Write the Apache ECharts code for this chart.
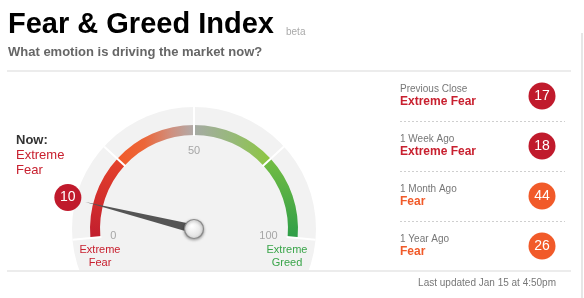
<!DOCTYPE html>
<html><head><meta charset="utf-8">
<script src="https://cdn.jsdelivr.net/npm/echarts@6/dist/echarts.min.js"></script>
<style>html,body{margin:0;padding:0;background:#fff}#c{width:584px;height:298px}</style>
</head><body><div id="c"></div>
<script>
// ---- data ----
const nowValue = 10;
const nowRating = 'Extreme Fear';
const gaugeTickLabels = [0, 50, 100];
const periods = ['Previous Close', '1 Week Ago', '1 Month Ago', '1 Year Ago'];
const ratings = ['Extreme Fear', 'Extreme Fear', 'Fear', 'Fear'];
const scores = [17, 18, 44, 26];

// ---- styles ----
const F = '"Liberation Sans", Arial, Helvetica, sans-serif';
const C = [194, 229];
const badgeColors = { 'Extreme Fear': '#c01a2c', 'Fear': '#f15a29' };
const textColors = { 'Extreme Fear': '#c8202f', 'Fear': '#f15a29' };
const LG = (x0, y0, x1, y1, stops) => new echarts.graphic.LinearGradient(x0, y0, x1, y1,
  stops.map(s => ({ offset: s[0], color: s[1] })));

const chart = echarts.init(document.getElementById('c'), null, { renderer: 'canvas' });

const option = {
  animation: false,
  textStyle: { fontFamily: F },
  polar: { center: C, radius: 130 },
  angleAxis: { type: 'value', min: 0, max: 100 * 360 / 190, startAngle: 185, clockwise: true, show: false },
  radiusAxis: { type: 'value', min: 0, max: 1, show: false },
  grid: [
    { left: 400, width: 165, top: 71, height: 200 },
    { left: 528, width: 28, top: 71, height: 200 }
  ],
  xAxis: [
    { gridIndex: 0, type: 'value', min: 0, max: 1, show: false },
    { gridIndex: 1, type: 'category', data: ['score'], show: false }
  ],
  yAxis: [
    {
      gridIndex: 0, type: 'category', data: periods, inverse: true,
      axisLine: { show: false }, axisTick: { show: false },
      splitLine: { show: true, lineStyle: { color: '#cfcfcf', type: [2, 2], width: 1 } },
      axisLabel: {
        inside: true, margin: 0, interval: 0,
        formatter: (v, i) => `{p|${v}}\n{${ratings[i] === 'Fear' ? 'o' : 'd'}|${ratings[i]}}`,
        rich: {
          p: { fontSize: 10, color: '#777', lineHeight: 12, fontFamily: F },
          d: { fontSize: 12, fontWeight: 'bold', color: textColors['Extreme Fear'], lineHeight: 14, fontFamily: F },
          o: { fontSize: 12, fontWeight: 'bold', color: textColors['Fear'], lineHeight: 14, fontFamily: F }
        }
      }
    },
    { gridIndex: 1, type: 'category', data: periods, inverse: true, show: false }
  ],
  series: [
    {
      type: 'pie', center: C, radius: [0, 122], silent: true, z: 0,
      label: { show: false }, labelLine: { show: false },
      data: [{ value: 1, itemStyle: { color: '#f2f2f2' } }]
    },
    {
      type: 'gauge', center: C, radius: 104, startAngle: 185, endAngle: -5,
      min: 0, max: 100, splitNumber: 4, z: 3,
      axisLine: {
        lineStyle: {
          width: 10,
          color: [
            [0.25, LG(0, 1, 0.4, 0, [[0, '#c11d2e'], [1, '#e4412b']])],
            [0.5, LG(0, 0, 1, 0, [[0, '#f15a29'], [0.35, '#ec6638'], [0.7, '#d08f7e'], [1, '#b0aba9']])],
            [0.75, LG(0, 0, 1, 0, [[0, '#a6aaa4'], [0.5, '#97b97a'], [1, '#8cc63f']])],
            [1, LG(0, 0, 0, 1, [[0, '#74bd43'], [1, '#2e9e48']])]
          ]
        }
      },
      splitLine: { show: true, distance: -28, length: 29, lineStyle: { color: '#fff', width: 2 } },
      axisTick: { show: false },
      axisLabel: {
        distance: 19, color: '#a6a6a6', fontSize: 11, fontFamily: F,
        formatter: v => (gaugeTickLabels.includes(v) ? String(v) : '')
      },
      pointer: {
        icon: 'path://M5,0 L10,100 L0,100 Z', length: 112, width: 9,
        itemStyle: { color: '#555' }
      },
      anchor: {
        show: true, showAbove: true, size: 19, icon: 'circle',
        itemStyle: {
          color: new echarts.graphic.RadialGradient(0.4, 0.35, 0.7, [
            { offset: 0, color: '#ffffff' }, { offset: 1, color: '#dcdcdc' }]),
          borderColor: '#8a8a8a', borderWidth: 1.2,
          shadowBlur: 3, shadowColor: 'rgba(0,0,0,0.35)', shadowOffsetY: 1
        }
      },
      title: { show: false }, detail: { show: false },
      data: [{ value: nowValue }]
    },
    {
      type: 'scatter', coordinateSystem: 'polar', z: 6, symbolSize: 27,
      data: [[1, nowValue]],
      itemStyle: { color: badgeColors[nowRating], opacity: 1 },
      label: { show: true, position: 'inside', formatter: p => String(p.value[1]), color: '#fff', fontSize: 14, fontFamily: F }
    },
    {
      type: 'scatter', xAxisIndex: 1, yAxisIndex: 1, symbolSize: 27, z: 6,
      data: scores.map((v, i) => ({ value: ['score', periods[i], v], itemStyle: { color: badgeColors[ratings[i]], opacity: 1 } })),
      label: { show: true, position: 'inside', formatter: p => String(p.value[2]), color: '#fff', fontSize: 14, fontFamily: F }
    }
  ],
  graphic: [
    { type: 'rect', z: 50, shape: { x: 0, y: 270, width: 390, height: 28 }, style: { fill: '#fff' } },
    { type: 'line', z: 60, shape: { x1: 7, y1: 71, x2: 571, y2: 71 }, style: { stroke: '#ececec', lineWidth: 2 } },
    { type: 'line', z: 60, shape: { x1: 7, y1: 271, x2: 571, y2: 271 }, style: { stroke: '#ececec', lineWidth: 2 } },
    { type: 'line', z: 60, shape: { x1: 582, y1: 33, x2: 582, y2: 298 }, style: { stroke: '#e6e6e6', lineWidth: 2 } },
    { type: 'text', z: 60, x: 8, y: 25, style: { text: 'Fear & Greed Index', font: 'bold 29px ' + F, fill: '#000', align: 'left', verticalAlign: 'middle' } },
    { type: 'text', z: 60, x: 286, y: 32, style: { text: 'beta', font: '10px ' + F, fill: '#aaa', align: 'left', verticalAlign: 'middle' } },
    { type: 'text', z: 60, x: 8, y: 52, style: { text: 'What emotion is driving the market now?', font: 'bold 13px ' + F, fill: '#666', align: 'left', verticalAlign: 'middle' } },
    { type: 'text', z: 60, x: 16, y: 140, style: { text: 'Now:', font: 'bold 13px ' + F, fill: '#333', align: 'left', verticalAlign: 'middle' } },
    { type: 'text', z: 60, x: 16, y: 155, style: { text: 'Extreme', font: '13px ' + F, fill: '#c8202f', align: 'left', verticalAlign: 'middle' } },
    { type: 'text', z: 60, x: 16, y: 170, style: { text: 'Fear', font: '13px ' + F, fill: '#c8202f', align: 'left', verticalAlign: 'middle' } },
    { type: 'text', z: 60, x: 100, y: 250, style: { text: 'Extreme', font: '11px ' + F, fill: '#c8202f', align: 'center', verticalAlign: 'middle' } },
    { type: 'text', z: 60, x: 100, y: 263, style: { text: 'Fear', font: '11px ' + F, fill: '#c8202f', align: 'center', verticalAlign: 'middle' } },
    { type: 'text', z: 60, x: 287, y: 250, style: { text: 'Extreme', font: '11px ' + F, fill: '#3aa54a', align: 'center', verticalAlign: 'middle' } },
    { type: 'text', z: 60, x: 287, y: 263, style: { text: 'Greed', font: '11px ' + F, fill: '#3aa54a', align: 'center', verticalAlign: 'middle' } },
    { type: 'text', z: 60, x: 556, y: 283, style: { text: 'Last updated Jan 15 at 4:50pm', font: '10px ' + F, fill: '#777', align: 'right', verticalAlign: 'middle' } }
  ]
};
chart.setOption(option);
</script>
</body></html>
